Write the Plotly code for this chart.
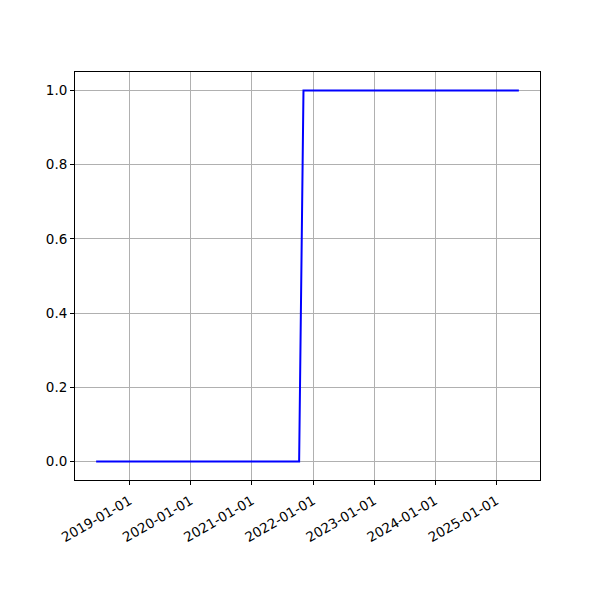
import pandas as pd
import plotly.graph_objects as go

dates = ["2018-06-15", "2021-10-10", "2021-11-05", "2025-05-15"]
values = [0, 0, 1, 1]
tick_dates = ["2019-01-01", "2020-01-01", "2021-01-01", "2022-01-01",
              "2023-01-01", "2024-01-01", "2025-01-01"]
y_ticks = [0.0, 0.2, 0.4, 0.6, 0.8, 1.0]

d = pd.to_datetime(dates)
span = d.max() - d.min()
xr = [d.min() - span * 0.05, d.max() + span * 0.05]

fig = go.Figure()
fig.add_trace(go.Scatter(x=dates, y=values, mode="lines",
                         line=dict(color="blue", width=2)))

axis_common = dict(showline=True, linecolor="black", linewidth=1, mirror=True,
                   ticks="outside", ticklen=4, tickcolor="black",
                   showgrid=True, gridcolor="#b0b0b0", gridwidth=1, zeroline=False)
fig.update_xaxes(range=xr, tickvals=tick_dates, tickformat="%Y-%m-%d",
                 tickangle=-30, ticklabelstandoff=3, **axis_common)
fig.update_yaxes(range=[-0.05, 1.05], tickvals=y_ticks, tickformat=".1f", **axis_common)

fig.update_layout(width=600, height=600, showlegend=False,
                  plot_bgcolor="white", paper_bgcolor="white",
                  margin=dict(l=67, r=68, t=64, b=128, autoexpand=False),
                  font=dict(family="DejaVu Sans", size=13.5, color="black"))
fig.write_html("out.html")
